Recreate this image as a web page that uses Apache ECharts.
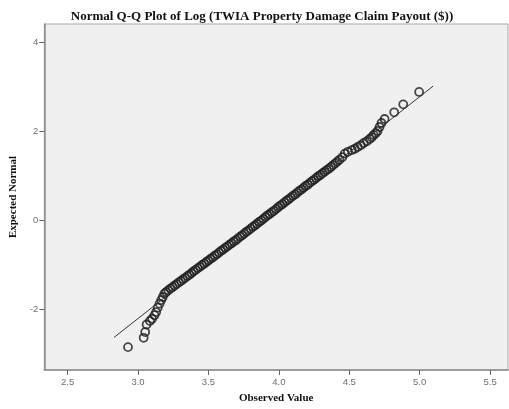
<!DOCTYPE html>
<html>
<head>
<meta charset="utf-8">
<script src="https://cdn.jsdelivr.net/npm/echarts@6/dist/echarts.min.js"></script>
<style>html,body{margin:0;padding:0;background:#fff}#c{width:509px;height:409px}</style>
</head>
<body>
<div id="c"></div>
<script>
const titleText = 'Normal Q-Q Plot of Log (TWIA Property Damage Claim Payout ($))';
const xName = 'Observed Value';
const yName = 'Expected Normal';
const xTicks = [2.5, 3.0, 3.5, 4.0, 4.5, 5.0, 5.5];
const yTicks = [-2, 0, 2, 4];

const observed = [
 2.929,3.040,3.051,3.061,3.085,3.100,3.117,3.129,3.140,3.153,3.165,3.176,3.188,
 3.200,3.215,3.230,3.245,3.260,3.275,3.290,3.305,3.320,3.335,3.350,3.365,3.380,3.395,3.410,3.425,
 3.440,3.455,3.470,3.485,3.500,3.515,3.530,3.545,3.560,3.575,3.590,3.605,3.620,3.635,3.650,3.665,
 3.680,3.695,3.710,3.725,3.740,3.755,3.770,3.785,3.800,3.815,3.830,3.845,3.860,3.875,3.890,3.905,
 3.920,3.935,3.950,3.965,3.980,3.995,4.010,4.025,4.040,4.055,4.070,4.085,4.100,4.115,4.130,4.145,
 4.160,4.175,4.190,4.205,4.220,4.235,4.250,4.265,4.280,4.295,4.310,4.325,4.340,4.355,4.370,4.385,
 4.400,4.415,4.430,
 4.450,4.468,4.490,4.518,4.540,4.560,4.582,4.603,4.625,4.645,4.660,4.673,4.688,4.701,4.715,4.729,4.751,
 4.819,4.883,4.996
];
const expected = [
 -2.86,-2.65,-2.52,-2.35,-2.27,-2.22,-2.14,-2.07,-1.97,-1.88,-1.80,-1.73,-1.65,
 -1.62,-1.58,-1.54,-1.51,-1.47,-1.44,-1.40,-1.37,-1.33,-1.30,-1.26,-1.23,-1.19,-1.15,-1.12,-1.08,
 -1.05,-1.01,-0.98,-0.94,-0.91,-0.87,-0.84,-0.80,-0.77,-0.73,-0.69,-0.66,-0.62,-0.59,-0.55,-0.52,
 -0.48,-0.45,-0.41,-0.37,-0.34,-0.30,-0.26,-0.23,-0.19,-0.15,-0.12,-0.08,-0.04,-0.01,0.03,0.07,
 0.11,0.14,0.18,0.21,0.25,0.29,0.33,0.36,0.40,0.44,0.47,0.51,0.55,0.58,0.62,0.66,
 0.69,0.73,0.77,0.80,0.84,0.88,0.91,0.95,0.99,1.02,1.06,1.09,1.13,1.16,1.20,1.24,
 1.28,1.32,1.36,
 1.42,1.50,1.54,1.58,1.61,1.65,1.69,1.74,1.78,1.83,1.87,1.92,1.96,2.01,2.10,2.19,2.28,
 2.43,2.61,2.89
];
// reference line endpoints (observed, expected)
const refX = [2.83, 5.095];
const refY = [-2.64, 3.02];

const pts = observed.map((v, i) => [v, expected[i]]);
const refPts = refX.map((v, i) => [v, refY[i]]);

const chart = echarts.init(document.getElementById('c'));
const labelStyle = {color: '#6e6e6e', fontSize: 9.5, fontFamily: 'Liberation Sans, Arial, sans-serif'};
chart.setOption({
  animation: false,
  backgroundColor: '#ffffff',
  title: {
    text: titleText, left: 257, top: 5, textAlign: 'center',
    textStyle: {fontFamily: 'Liberation Serif, Times New Roman, serif', fontWeight: 'bold', fontSize: 13, color: '#111'}
  },
  grid: {left: 41, right: 1, top: 24, bottom: 39, show: true, backgroundColor: '#f0f0f0', borderColor: '#a8a8a8', borderWidth: 1},
  xAxis: {
    type: 'value', min: 2.335, max: 5.627,
    name: xName, nameLocation: 'middle', nameGap: 23,
    nameTextStyle: {fontFamily: 'Liberation Serif, serif', fontWeight: 'bold', fontSize: 11, color: '#111'},
    splitLine: {show: false},
    axisLine: {show: true, onZero: false, lineStyle: {color: '#8a8a8a', width: 1.5}},
    axisTick: {show: true, length: 5, lineStyle: {color: '#666'}, customValues: xTicks},
    axisLabel: Object.assign({margin: 7, customValues: xTicks, formatter: v => v.toFixed(1)}, labelStyle)
  },
  yAxis: {
    type: 'value', min: -3.375, max: 4.42,
    name: yName, nameLocation: 'middle', nameGap: 25, nameRotate: 90,
    nameTextStyle: {fontFamily: 'Liberation Serif, serif', fontWeight: 'bold', fontSize: 11, color: '#111'},
    splitLine: {show: false},
    axisLine: {show: true, onZero: false, lineStyle: {color: '#8a8a8a', width: 1.5}},
    axisTick: {show: true, length: 5, lineStyle: {color: '#666'}, customValues: yTicks},
    axisLabel: Object.assign({margin: 6, customValues: yTicks, formatter: v => String(v)}, labelStyle)
  },
  series: [
    {
      type: 'scatter', data: pts, symbol: 'circle', symbolSize: 8,
      itemStyle: {color: 'rgba(0,0,0,0)', borderColor: '#1e1e1e', borderWidth: 1.8},
      z: 2
    },
    {
      type: 'line', data: refPts, showSymbol: false, symbol: 'none',
      lineStyle: {color: '#333', width: 1}, z: 3
    }
  ]
});
</script>
</body>
</html>
